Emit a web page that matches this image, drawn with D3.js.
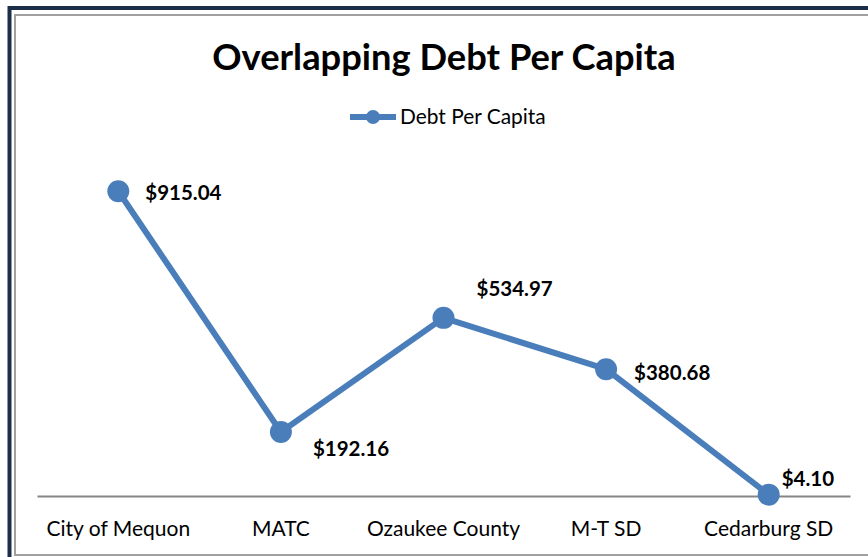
<!DOCTYPE html>
<html><head><meta charset="utf-8">
<script src="https://cdn.jsdelivr.net/npm/d3@7"></script>
<style>
html,body{margin:0;padding:0;background:#fff;overflow:hidden}
svg{display:block}
</style></head>
<body>
<svg id="chart" width="868" height="557"></svg>
<script>
const title = "Overlapping Debt Per Capita";
const seriesName = "Debt Per Capita";
const categories = ["City of Mequon", "MATC", "Ozaukee County", "M-T SD", "Cedarburg SD"];
const values = [915.04, 192.16, 534.97, 380.68, 4.10];
const labelOffsets = [[27, 2], [32, 17], [33, -29], [28, 4], [13, -16]];

const FONT = "Lato, 'Open Sans', sans-serif";
const BLUE = "#4a7ebb";
const svg = d3.select("#chart");

// border
svg.append("rect").attr("x", 9.5).attr("y", 8).attr("width", 900).attr("height", 600)
  .attr("fill", "none").attr("stroke", "#1b2f4b").attr("stroke-width", 4);
svg.append("rect").attr("x", 15).attr("y", 15).attr("width", 900).attr("height", 540)
  .attr("fill", "none").attr("stroke", "#a0a0a0").attr("stroke-width", 2);

const x = d3.scaleBand().domain(categories).range([37, 850]).padding(0);
const y = d3.scaleLinear().domain([0, 1000]).range([496, 163]);

// title
svg.append("text").attr("x", 444).attr("y", 70).attr("text-anchor", "middle")
  .attr("font-family", FONT).attr("font-weight", "bold").attr("font-size", 36.3)
  .attr("fill", "#000").text(title);

// legend
const lg = svg.append("g");
lg.append("line").attr("x1", 350).attr("x2", 396).attr("y1", 117).attr("y2", 117)
  .attr("stroke", BLUE).attr("stroke-width", 6);
lg.append("circle").attr("cx", 373).attr("cy", 117).attr("r", 7).attr("fill", BLUE);
lg.append("text").attr("x", 400).attr("y", 124).attr("font-family", FONT)
  .attr("font-size", 20.9).attr("fill", "#000").text(seriesName);

// axis
const axis = d3.axisBottom(x).tickSize(0).tickPadding(0);
const ag = svg.append("g").attr("transform", "translate(0,496)").call(axis);
ag.select(".domain").attr("stroke", "#868686").attr("stroke-width", 2);
ag.selectAll(".tick text").attr("font-family", FONT).attr("font-size", 21)
  .attr("fill", "#000").attr("dy", 0).attr("y", 40);

// line
const line = d3.line().x((d, i) => x(categories[i]) + x.bandwidth() / 2).y(d => y(d));
svg.append("path").datum(values).attr("d", line).attr("fill", "none")
  .attr("stroke", BLUE).attr("stroke-width", 6).attr("stroke-linejoin", "round");

svg.selectAll("circle.pt").data(values).join("circle").attr("class", "pt")
  .attr("cx", (d, i) => x(categories[i]) + x.bandwidth() / 2)
  .attr("cy", d => y(d)).attr("r", 11).attr("fill", BLUE);

svg.selectAll("text.lbl").data(values).join("text").attr("class", "lbl")
  .attr("x", (d, i) => x(categories[i]) + x.bandwidth() / 2 + labelOffsets[i][0])
  .attr("y", (d, i) => y(d) + labelOffsets[i][1] + 7)
  .attr("font-family", FONT).attr("font-weight", "bold").attr("font-size", 20.5)
  .attr("fill", "#000").text(d => "$" + d3.format(",.2f")(d));
</script>
</body></html>
